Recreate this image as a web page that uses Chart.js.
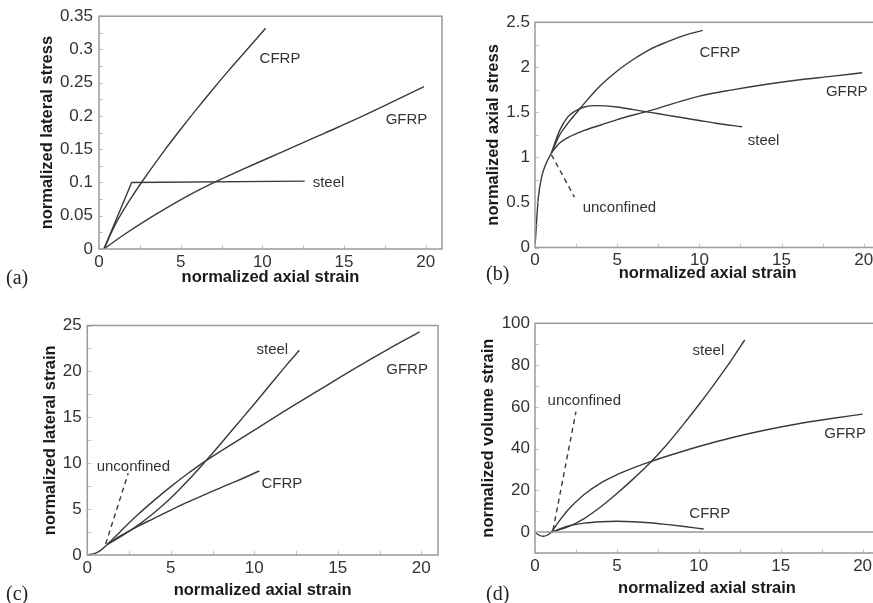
<!DOCTYPE html>
<html><head><meta charset="utf-8">
<script src="https://cdn.jsdelivr.net/npm/chart.js@4/dist/chart.umd.min.js"></script>
<style>
html,body{margin:0;padding:0;background:#fff;width:873px;height:603px;overflow:hidden;position:relative}
canvas{position:absolute}
.lab{position:absolute;font-family:"Liberation Serif","Times New Roman",serif;font-size:20px;color:#222;line-height:1}
</style></head><body>
<canvas id="ca" width="445" height="300" style="left:0;top:0"></canvas>
<canvas id="cb" width="450" height="300" style="left:436px;top:0"></canvas>
<canvas id="cc" width="445" height="303" style="left:0;top:300px"></canvas>
<canvas id="cd" width="450" height="303" style="left:436px;top:300px"></canvas>
<div class="lab" style="left:6px;top:267px">(a)</div>
<div class="lab" style="left:486px;top:263px">(b)</div>
<div class="lab" style="left:6px;top:583px">(c)</div>
<div class="lab" style="left:486px;top:583px">(d)</div>
<script>
// ---------- data (x = normalized axial strain) ----------
// (a) normalized lateral stress
const aCFRP  = [[0.3,0],[1,0.037],[2,0.078],[3,0.114],[4,0.148],[5,0.18],[6,0.211],[7,0.241],[8,0.27],[9,0.298],[10.2,0.332]];
const aGFRP  = [[0.3,0],[1.5,0.021],[3,0.045],[5,0.074],[7.05,0.1],[9,0.122],[11.6,0.15],[13.8,0.174],[15.9,0.197],[19.9,0.244]];
const aSteel = [[0.3,0],[2.0,0.1],[12.6,0.102]];
// (b) normalized axial stress
const bRise   = [[0,0],[0.1,0.3],[0.2,0.55],[0.4,0.78],[0.6,0.9],[0.8,0.98],[1.0,1.05]];
const bCFRP   = [[1,1.05],[1.5,1.25],[2,1.38],[2.5,1.49],[3,1.6],[4,1.8],[5,1.96],[6,2.09],[7,2.2],[8,2.28],[9,2.35],[10.2,2.41]];
const bSteel  = [[1,1.05],[1.5,1.3],[2,1.45],[2.5,1.52],[3,1.56],[3.7,1.575],[5,1.56],[6,1.53],[7,1.5],[8,1.47],[9,1.44],[10,1.41],[11,1.38],[12.6,1.34]];
const bGFRP   = [[1,1.05],[1.5,1.16],[2,1.22],[3,1.3],[4,1.36],[5,1.42],[7,1.52],[10,1.68],[12,1.75],[14,1.81],[16,1.86],[18,1.9],[19.9,1.94]];
const bUnconf = [[1.0,1.03],[2.4,0.56]];
// (c) normalized lateral strain
const cRise   = [[0,0],[0.5,0.2],[0.8,0.5],[1.2,1.15]];
const cSteel  = [[1.2,1.15],[2,2],[3,3.2],[4,4.6],[5,6.2],[6,8.05],[7,10.05],[8,12.15],[9,14.3],[10,16.45],[11,18.65],[12,20.85],[12.7,22.3]];
const cGFRP   = [[1.2,1.15],[2,2.6],[3,4.35],[4,5.95],[5,7.45],[6,8.85],[7,10.15],[10,13.6],[12,15.9],[14,18.1],[16,20.3],[18,22.4],[19.9,24.3]];
const cCFRP   = [[1.2,1.15],[2,2.1],[3,3.1],[4,4.0],[5,4.9],[6,5.75],[7,6.55],[8,7.35],[9,8.1],[10.3,9.15]];
const cUnconf = [[1.1,1.2],[2.45,8.9]];
// (d) normalized volume strain
const dRise   = [[0,0],[0.25,-1.5],[0.5,-2],[0.75,-1.5],[1,0]];
const dSteel  = [[1,0],[2,2.5],[3,6.5],[4,12],[5,18.5],[6,25.5],[7,33],[8,41.5],[9,51],[10,61],[11,71.5],[12,82.5],[12.8,92]];
const dGFRP   = [[1,0],[1.5,5.5],[2,10.5],[3,18],[4,23.5],[5,27.5],[6,30.8],[7,33.6],[8,36.2],[10,41],[12,45.2],[14,48.8],[16,51.8],[18,54.3],[20,56.5]];
const dCFRP   = [[1,0],[2,2.8],[3,4.3],[4,5.0],[5,5.2],[6,5.0],[7,4.5],[8,3.7],[9,2.8],[10.3,1.5]];
const dUnconf = [[1.1,1],[2.5,57.7]];
const dZero   = [[0,0],[21,0]];
// ---------- ticks ----------
const xTicks  = [0,2.5,5,7.5,10,12.5,15,17.5,20];
const xLabels = [0,5,10,15,20];
const aYTicks = [0,0.025,0.05,0.075,0.1,0.125,0.15,0.175,0.2,0.225,0.25,0.275,0.3,0.325,0.35];
const aYLabels = [0,0.05,0.1,0.15,0.2,0.25,0.3,0.35];
const bYTicks = [0,0.25,0.5,0.75,1,1.25,1.5,1.75,2,2.25,2.5];
const bYLabels = [0,0.5,1,1.5,2,2.5];
const cYTicks = [0,2.5,5,7.5,10,12.5,15,17.5,20,22.5,25];
const cYLabels = [0,5,10,15,20,25];
const dYTicks = [-10,0,10,20,30,40,50,60,70,80,90,100];
const dYLabels = [0,20,40,60,80,100];
// ---------- in-plot labels [text, x, y] ----------
const aNotes = [["CFRP",9.83,0.286],["GFRP",17.55,0.194],["steel",13.08,0.1]];
const bNotes = [["CFRP",10.0,2.16],["GFRP",17.7,1.73],["steel",12.94,1.18],["unconfined",2.9,0.44]];
const cNotes = [["steel",10.13,22.3],["GFRP",17.9,20.2],["unconfined",0.56,9.58],["CFRP",10.43,7.8]];
const dNotes = [["steel",9.62,86.8],["unconfined",0.77,62.9],["GFRP",17.66,47],["CFRP",9.42,8.8]];

const LINE = '#3a3a3a';
const pts = a => a.map(p => ({x:p[0], y:p[1]}));
function ds(arr, opt){
  return Object.assign({data:pts(arr), borderColor:LINE, borderWidth:1.4, pointRadius:0,
    fill:false, tension:0.4, cubicInterpolationMode:'monotone'}, opt||{});
}
function dash(arr){ return ds(arr,{borderDash:[5,4], tension:0, cubicInterpolationMode:'default'}); }

const framePlugin = {
  id:'frame',
  afterDatasetsDraw(chart){
    const {ctx, chartArea:a} = chart;
    const xs = chart.scales.x, ys = chart.scales.y;
    ctx.save();
    ctx.strokeStyle = '#c4c4c4'; ctx.lineWidth = 1;
    ctx.beginPath();
    xs.ticks.forEach(t => { const px = Math.round(xs.getPixelForValue(t.value))+0.5; ctx.moveTo(px,a.bottom); ctx.lineTo(px,a.bottom-4); });
    ys.ticks.forEach(t => { const py = Math.round(ys.getPixelForValue(t.value))+0.5; ctx.moveTo(a.left,py); ctx.lineTo(a.left+4,py); });
    ctx.stroke();
    ctx.strokeStyle = '#9a9a9a'; ctx.lineWidth = 1.5;
    ctx.strokeRect(a.left, a.top, a.right-a.left, a.bottom-a.top);
    const notes = chart.options.plugins.frame.notes || [];
    ctx.fillStyle = '#333'; ctx.font = '15px "Liberation Sans", Arial, sans-serif';
    ctx.textAlign = 'left'; ctx.textBaseline = 'middle';
    notes.forEach(n => ctx.fillText(n[0], xs.getPixelForValue(n[1]), ys.getPixelForValue(n[2])));
    ctx.restore();
  }
};

function make(id, cfg){
  const tickFont = {family:'"Liberation Sans", Arial, sans-serif', size:17};
  const titleFont = {family:'"Liberation Sans", Arial, sans-serif', size:16.5, weight:'bold'};
  new Chart(document.getElementById(id), {
    type:'line',
    data:{datasets:cfg.datasets},
    options:{
      responsive:false, animation:false, events:[],
      layout:{padding:{top:cfg.padTop, right:cfg.padRight, left:0, bottom:0}},
      plugins:{legend:{display:false}, tooltip:{enabled:false}, frame:{notes:cfg.notes}},
      scales:{
        x:{type:'linear', min:0, max:21,
          afterBuildTicks: s => { s.ticks = xTicks.map(v => ({value:v})); },
          afterFit: s => { s.height = cfg.xH; },
          grid:{display:false, drawTicks:false}, border:{display:false},
          ticks:{font:tickFont, color:'#333', padding:3, maxRotation:0, autoSkip:false,
            callback: v => xLabels.includes(v) ? String(v) : ''},
          title:{display:true, text:'normalized axial strain', font:titleFont, color:'#1a1a1a',
            padding:{top:0, bottom:cfg.xTitlePad}}
        },
        y:{type:'linear', min:cfg.ymin, max:cfg.ymax,
          afterBuildTicks: s => { s.ticks = cfg.yTicks.map(v => ({value:v})); },
          afterFit: s => { s.width = cfg.yW; },
          grid:{display:false, drawTicks:false}, border:{display:false},
          ticks:{font:tickFont, color:'#333', padding:cfg.yTickPad, autoSkip:false,
            callback: v => cfg.yLabels.includes(v) ? String(v) : ''},
          title:{display:true, text:cfg.yTitle, font:titleFont, color:'#1a1a1a',
            padding:{top:cfg.yTitlePad, bottom:0}}
        }
      }
    },
    plugins:[framePlugin]
  });
}

make('ca', {
  datasets:[ds(aCFRP), ds(aGFRP), ds(aSteel,{tension:0, cubicInterpolationMode:'default'})],
  notes:aNotes, padTop:15.5, padRight:3, xH:51, yW:99, ymin:0, ymax:0.35,
  yTicks:aYTicks, yLabels:aYLabels, yTitle:'normalized lateral stress',
  yTitlePad:37.1, xTitlePad:13.1, yTickPad:6
});
make('cb', {
  datasets:[ds(bRise), ds(bCFRP), ds(bSteel), ds(bGFRP), dash(bUnconf)],
  notes:bNotes, padTop:22.3, padRight:5.8, xH:52.5, yW:99, ymin:0, ymax:2.5,
  yTicks:bYTicks, yLabels:bYLabels, yTitle:'normalized axial stress',
  yTitlePad:47.6, xTitlePad:16.8, yTickPad:5
});
make('cc', {
  datasets:[ds(cRise), ds(cSteel), ds(cGFRP), ds(cCFRP), dash(cUnconf)],
  notes:cNotes, padTop:25.5, padRight:7, xH:48, yW:87.3, ymin:0, ymax:25,
  yTicks:cYTicks, yLabels:cYLabels, yTitle:'normalized lateral strain',
  yTitlePad:40.1, xTitlePad:3.1, yTickPad:5.6
});
make('cd', {
  datasets:[ds(dZero,{borderColor:'#9a9a9a', borderWidth:1.5, tension:0, cubicInterpolationMode:'default'}),
            ds(dRise), ds(dSteel), ds(dGFRP), ds(dCFRP), dash(dUnconf)],
  notes:dNotes, padTop:23.3, padRight:7, xH:50, yW:99, ymin:-10, ymax:100,
  yTicks:dYTicks, yLabels:dYLabels, yTitle:'normalized volume strain',
  yTitlePad:42.6, xTitlePad:4.8, yTickPad:5
});
</script>
</body></html>
